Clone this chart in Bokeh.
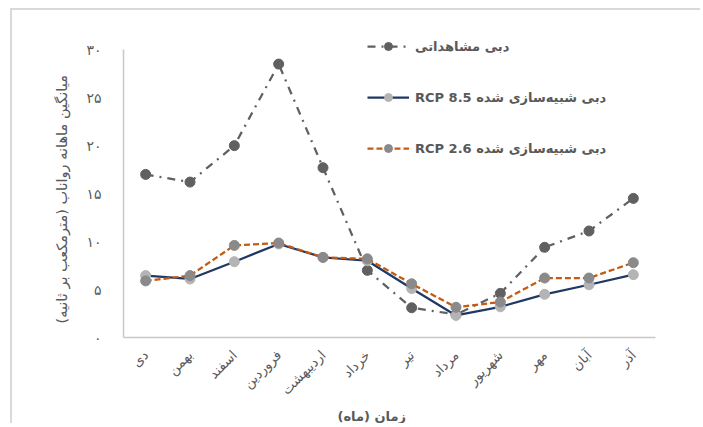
import math
from bokeh.plotting import figure
from bokeh.models import FactorRange, Range1d, FixedTicker, Legend, LegendItem, Title
from bokeh.embed import file_html
from bokeh.resources import INLINE

RLE, PDF = "\u202B", "\u202C"

months = ["دی", "بهمن", "اسفند", "فروردین", "اردیبهشت", "خرداد",
          "تیر", "مرداد", "شهریور", "مهر", "آبان", "آذر"]
observed = [17.0, 16.2, 20.0, 28.5, 17.7, 7.0, 3.1, 2.4, 4.6, 9.4, 11.1, 14.5]
rcp85 = [6.45, 6.1, 7.9, 9.75, 8.35, 8.0, 5.1, 2.3, 3.2, 4.5, 5.5, 6.55]
rcp26 = [5.9, 6.45, 9.6, 9.85, 8.35, 8.2, 5.6, 3.15, 3.7, 6.2, 6.2, 7.8]
y_ticks = [0, 5, 10, 15, 20, 25, 30]
y_tick_labels = ["۰", "۵", "۱۰", "۱۵", "۲۰", "۲۵", "۳۰"]

label_obs = "دبی مشاهداتی"
label_85 = "دبی شبیه‌سازی شده RCP 8.5"
label_26 = "دبی شبیه‌سازی شده RCP 2.6"
x_title = "زمان (ماه)"
y_title = "میانگین ماهانه رواناب (مترمکعب بر ثانیه)"

FONT = "DejaVu Sans"
GRAY = "#595959"

p = figure(frame_width=532, frame_height=307, x_range=FactorRange(*months), y_range=Range1d(0, 32),
           output_backend="svg", toolbar_location=None,
           min_border_left=111, min_border_right=45, min_border_top=20, min_border_bottom=86)
p.styles = {"margin-left": "10px", "margin-top": "8px",
            "border-left": "2px solid #d9d9d9", "border-top": "2px solid #d9d9d9"}
p.x_range.range_padding = 0
p.outline_line_color = None
p.xgrid.grid_line_color = None
p.ygrid.grid_line_color = None

r_obs = p.line(months, observed, line_color="#606060", line_width=2.25, line_dash="8 6 2 6")
m_obs = p.scatter(months, observed, size=10, fill_color="#606060", line_color="#606060")
r_85 = p.line(months, rcp85, line_color="#203864", line_width=2.25)
m_85 = p.scatter(months, rcp85, size=10, fill_color="#b4b4b4", line_color="#b4b4b4")
r_26 = p.line(months, rcp26, line_color="#c55a11", line_width=2.25, line_dash="6 3")
m_26 = p.scatter(months, rcp26, size=10, fill_color="#8a8a8a", line_color="#8a8a8a")

yax = p.yaxis[0]
yax.ticker = FixedTicker(ticks=y_ticks)
yax.bounds = (0, 30)
yax.major_label_overrides = {t: l for t, l in zip(y_ticks, y_tick_labels)}
yax.axis_line_color = "#c8c8c8"
yax.axis_line_width = 1.5
yax.major_tick_line_color = None
yax.minor_tick_line_color = None
yax.major_label_standoff = 16
yax.major_label_text_font = FONT
yax.major_label_text_font_size = "14px"
yax.major_label_text_color = GRAY

yt = Title(text=RLE + y_title + PDF, align="left", offset=14, text_font=FONT,
           text_font_size="14.5px", text_font_style="normal", text_color=GRAY, standoff=28)
p.add_layout(yt, "left")

xax = p.xaxis[0]
xax.axis_line_color = "#c8c8c8"
xax.axis_line_width = 1.5
xax.major_tick_line_color = None
xax.minor_tick_line_color = None
xax.major_label_orientation = math.pi / 4
xax.major_label_standoff = 9
xax.major_label_text_font = FONT
xax.major_label_text_font_size = "13.5px"
xax.major_label_text_color = GRAY

xt = Title(text=RLE + x_title + PDF, align="left", offset=214, text_font=FONT,
           text_font_size="13px", text_font_style="bold", text_color=GRAY, standoff=0)
p.add_layout(xt, "below")

legend = Legend(items=[
    LegendItem(label=RLE + label_obs + PDF, renderers=[r_obs, m_obs]),
    LegendItem(label=RLE + label_85 + PDF, renderers=[r_85, m_85]),
    LegendItem(label=RLE + label_26 + PDF, renderers=[r_26, m_26]),
], location=(244, 179))
legend.glyph_width = 42
legend.glyph_height = 20
legend.spacing = 31
legend.padding = 0
legend.margin = 0
legend.label_standoff = 6
legend.border_line_color = None
legend.background_fill_alpha = 0
legend.label_text_font = FONT
legend.label_text_font_size = "13px"
legend.label_text_font_style = "bold"
legend.label_text_color = GRAY
p.add_layout(legend)

open("out.html", "w").write(file_html(p, INLINE))
